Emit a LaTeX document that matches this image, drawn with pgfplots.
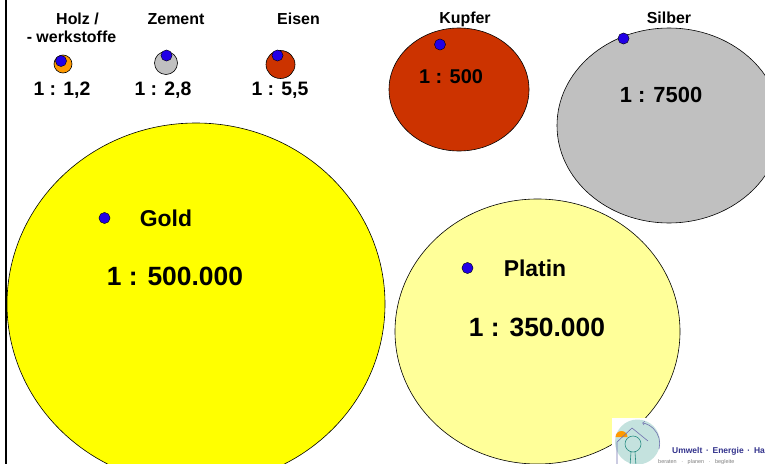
\documentclass[border=0pt]{standalone}
\usepackage{pgfplots}
\pgfplotsset{compat=1.18}
\usepackage{fontspec}
\setmainfont{Liberation Sans}
\definecolor{holzc}{RGB}{255,153,0}
\definecolor{grayc}{RGB}{192,192,192}
\definecolor{redc}{RGB}{204,51,0}
\definecolor{goldc}{RGB}{255,255,0}
\definecolor{platc}{RGB}{255,255,153}
\definecolor{dotc}{RGB}{34,0,230}
\definecolor{tealc}{RGB}{196,226,222}
\definecolor{logoblue}{RGB}{50,50,140}
\definecolor{treec}{RGB}{40,140,130}
\pgfdeclareplotmark{ell}{%
  \pgfpathellipse{\pgfpointorigin}{\pgfpoint{\rx bp}{0pt}}{\pgfpoint{0pt}{\ry bp}}%
  \pgfusepathqfillstroke}
\pgfplotsset{
  ellplot/.style={only marks, scatter, mark=ell,
    scatter/use mapped color={draw=black, fill=#1},
    line width=0.6pt,
    visualization depends on={\thisrow{rx}\as\rx},
    visualization depends on={\thisrow{ry}\as\ry}},
  dotplot/.style={only marks, mark=*, mark size=5.6pt,
    mark options={draw=black, fill=dotc, line width=0.4pt}},
  canvas/.style={at={(0,0)}, anchor=south west, scale only axis,
    width=765bp, height=464bp, xmin=0, xmax=765, ymin=0, ymax=464,
    y dir=reverse, axis lines=none, clip=true},
}
\newcommand{\lab}[3]{\node[anchor=base, inner sep=0pt, font=\bfseries\fontsize{#1}{#1}\selectfont] at #2 {#3};}
\begin{document}
\begin{tikzpicture}
\useasboundingbox (0,0) rectangle (765bp,464bp);
\clip (0,0) rectangle (765bp,464bp);
\begin{axis}[canvas]
% large circles
\addplot[ellplot=goldc] table {
x y rx ry
196 304 189 181
};
\addplot[ellplot=platc] table {
x y rx ry
537.5 331.5 142.5 132.5
};
\addplot[ellplot=grayc] table {
x y rx ry
669 125.5 112 97.5
};
\addplot[ellplot=redc] table {
x y rx ry
459 89.5 70 61.5
};
% small circles
\addplot[ellplot=holzc] table {
x y rx ry
63 64 9 9
};
\addplot[ellplot=grayc] table {
x y rx ry
166 63 11.5 11.5
};
\addplot[ellplot=redc] table {
x y rx ry
280.5 64.5 14.5 14
};
% blue dots
\addplot[dotplot] coordinates {(61,61) (166.5,55.5) (277.5,55.5) (440,44.5) (623.5,38.5) (104.5,218) (467.5,268)};
\end{axis}
\begin{axis}[canvas]
% left border line
\addplot[black, line width=1.6pt] coordinates {(6,0) (6,464)};
% labels
\lab{16}{(axis cs:77.5,25)}{Holz /}
\lab{16}{(axis cs:71.5,42.5)}{- werkstoffe}
\lab{16}{(axis cs:176,25)}{Zement}
\lab{16}{(axis cs:298.5,25)}{Eisen}
\lab{16}{(axis cs:465,24)}{Kupfer}
\lab{16}{(axis cs:669,24)}{Silber}
\lab{19.5}{(axis cs:62,95)}{1 : 1,2}
\lab{19.5}{(axis cs:163,95)}{1 : 2,8}
\lab{19.5}{(axis cs:280,95)}{1 : 5,5}
\lab{20}{(axis cs:451,84)}{1 : 500}
\lab{22}{(axis cs:661,102)}{1 : 7500}
\lab{23}{(axis cs:166,226)}{Gold}
\lab{26.5}{(axis cs:175,285)}{1 : 500.000}
\lab{23}{(axis cs:535,276)}{Platin}
\lab{26.5}{(axis cs:537,336)}{1 : 350.000}
% logo
\fill[white] (axis cs:612,418) rectangle (axis cs:766,465);
\fill[tealc] (axis cs:637.5,442) circle[radius=22.5bp];
\begin{scope}
\clip (axis cs:612,418) rectangle (axis cs:766,465);
\fill[holzc] (axis cs:615.5,437) arc[start angle=180, end angle=0, radius=6bp] -- cycle;
\draw[logoblue!70, line width=0.6pt] (axis cs:617,466) -- (axis cs:617,442) -- (axis cs:632,428) -- (axis cs:648,441);
\draw[logoblue!70, line width=0.6pt, ->] (axis cs:659,449) arc[start angle=-15, end angle=80, radius=21bp];
\draw[treec, line width=0.6pt] (axis cs:630,466) -- (axis cs:631,452)
  (axis cs:636,466) -- (axis cs:635,452);
\draw[treec, line width=0.6pt] (axis cs:633,444) circle[radius=8bp];
\end{scope}
\node[anchor=base west, inner sep=0pt, text=logoblue, font=\bfseries\fontsize{8.5}{8.5}\selectfont] at (axis cs:672,453) {Umwelt\ \,·\ \,Energie\ \,·\ \,Ha};
\node[anchor=base west, inner sep=0pt, text=gray, font=\fontsize{5.5}{5.5}\selectfont] at (axis cs:658,463) {beraten\ \ \ ·\ \ \ planen\ \ \ ·\ \ \ begleite};
\end{axis}
\end{tikzpicture}
\end{document}
